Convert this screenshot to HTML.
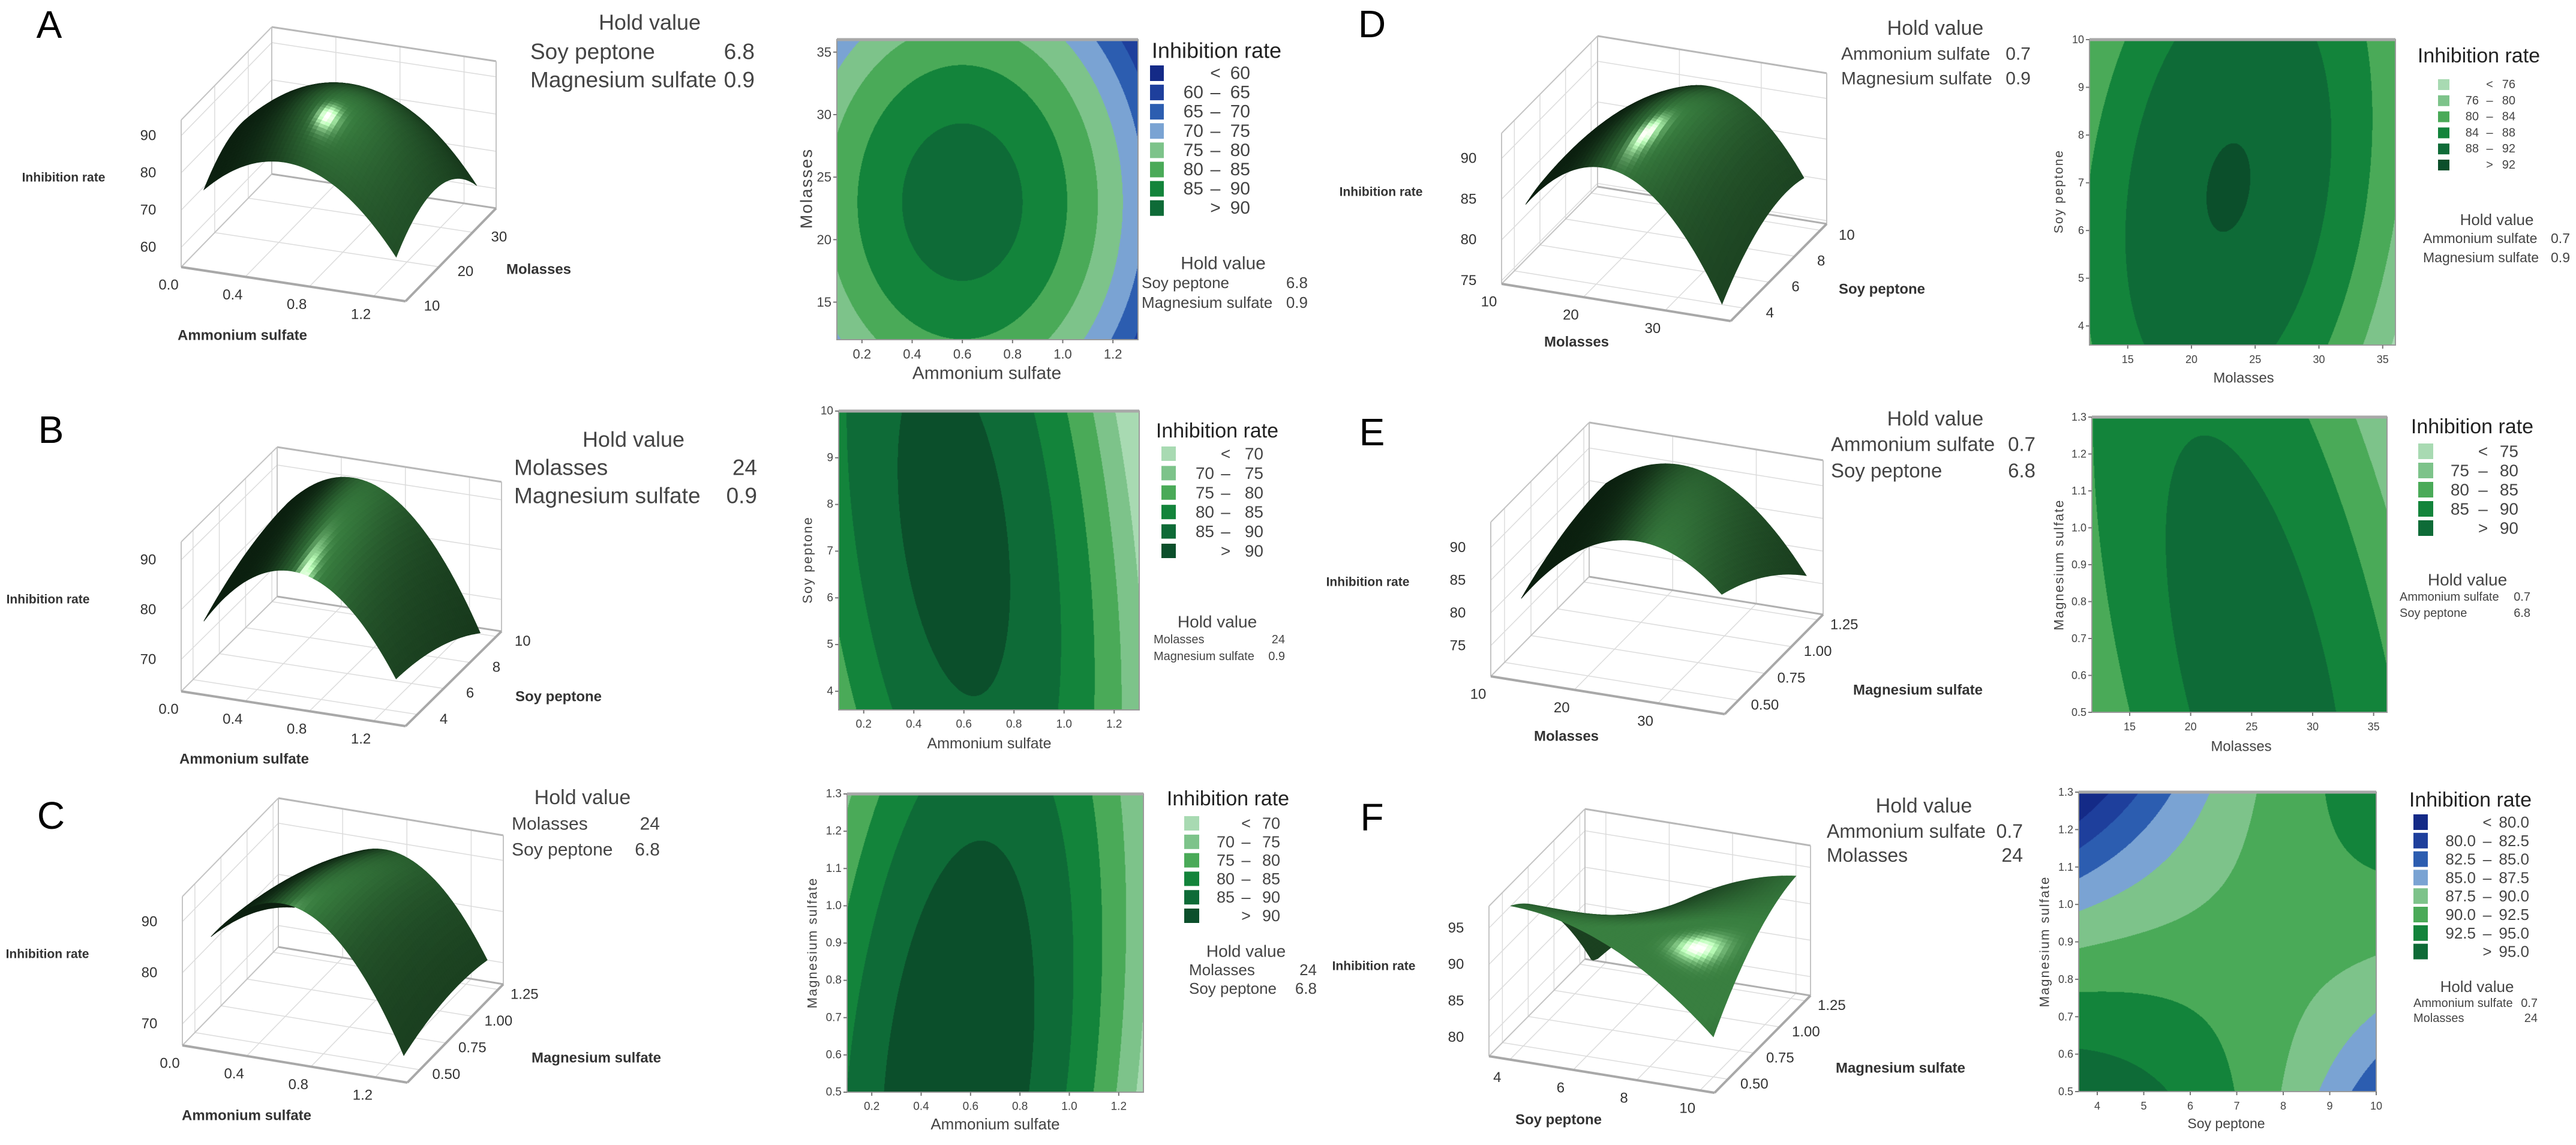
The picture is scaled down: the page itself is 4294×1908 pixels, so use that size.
<!DOCTYPE html>
<html><head><meta charset="utf-8">
<style>
body{margin:0;background:#fff;}
#wrap{position:relative;width:4294px;height:1908px;overflow:hidden;background:#fff;}
#fig{position:absolute;left:0;top:0;}
canvas{position:absolute;}
text{font-family:"Liberation Sans",sans-serif;}
</style></head>
<body>
<div id="wrap">
<svg id="fig" width="4294" height="1908" xmlns="http://www.w3.org/2000/svg"></svg>
</div>
<script>
// ---------- data ----------
const levelsA=[60,65,70,75,80,85,90];
const levelsB=[70,75,80,85,90];
const levelsC=[70,75,80,85,90];
const levelsD=[76,80,84,88,92];
const levelsE=[75,80,85,90];
const levelsF=[80,82.5,85,87.5,90,92.5,95];
const paletteBlue=['#142a87','#1e3f9c','#2c5db0','#7aa3d3','#7dc38a','#4aaa58','#13843b','#0e6b37'];
const paletteG6=['#a8dab2','#7dc38a','#4aaa58','#13843b','#0e6b37','#0b4f2b'];
const paletteG5=['#a8dab2','#7dc38a','#4aaa58','#13843b','#0e6b37'];
// response-surface coefficients [c0, X, Y, X^2, Y^2, XY, X^2Y^2]
const coefA=[92.46,0,0,-42.7,-0.062,0,0];   const centerA=[0.6,23,1,1];
const coefB=[91.9,0,0,-43,-0.167,-1.89,0];   const centerB=[0.56,7.5,1,1];
const coefC=[93.9,0,0,-45,-11.0,13.5,0];     const centerC=[0.55,0.55,1,1];
const coefD=[92.19,0,0,-0.068,-0.233,0.0598,0]; const centerD=[22.9,6.9,1,1];
const coefE=[92.2,0,0,-0.06,-7.66,-0.768,0]; const centerE=[25.3,0.6,1,1];
const coefF=[91,0.32,-1.7,-0.82,-0.3,7,-2];  const centerF=[7,0.9,3,0.4];
const ticksAmm=[0.2,0.4,0.6,0.8,1.0,1.2];
const ticksMol=[15,20,25,30,35];
const ticksSoy=[4,5,6,7,8,9,10];
const ticksMg=[0.5,0.6,0.7,0.8,0.9,1.0,1.1,1.2,1.3];
const ticks3Amm=[0,0.4,0.8,1.2];
const ticks3Mol=[10,20,30];
const ticks3Soy=[4,6,8,10];
const ticks3Mg=[0.5,0.75,1.0,1.25];

// ---------- helpers ----------
const NS='http://www.w3.org/2000/svg';
const svg=document.getElementById('fig');
const wrap=document.getElementById('wrap');
function el(tag,attrs,parent){const e=document.createElementNS(NS,tag);for(const k in attrs)e.setAttribute(k,attrs[k]);(parent||svg).appendChild(e);return e;}
function T(x,y,s,size,name,anchor,weight,extra){
  const e=el('text',{x:x,y:y,'font-size':size,'text-anchor':anchor||'start','dominant-baseline':'central','font-weight':weight||'normal',fill:'#222'});
  if(extra){for(const k in extra)e.setAttribute(k,extra[k]);}
  e.textContent=s;
  
  
  return e;
}
function model(c,ct,x,y){const X=(x-ct[0])/ct[2],Y=(y-ct[1])/ct[3];return c[0]+c[1]*X+c[2]*Y+c[3]*X*X+c[4]*Y*Y+c[5]*X*Y+c[6]*X*X*Y*Y;}
function hex(h){return [parseInt(h.substr(1,2),16),parseInt(h.substr(3,2),16),parseInt(h.substr(5,2),16)];}
function fmt(v,d){return v.toFixed(d);}

// ---------- contour panels ----------
function contour(cfg){
  const [bx,by,bw,bh]=cfg.box;
  const cv=document.createElement('canvas');
  cv.width=bw;cv.height=bh;cv.style.left=bx+'px';cv.style.top=by+'px';
  
  
  wrap.insertBefore(cv,svg);
  const ctx=cv.getContext('2d');const img=ctx.createImageData(bw,bh);
  const pal=cfg.palette.map(hex);
  for(let py=0;py<bh;py++){const yv=cfg.yr[1]-(py+0.5)/bh*(cfg.yr[1]-cfg.yr[0]);
    for(let px=0;px<bw;px++){const xv=cfg.xr[0]+(px+0.5)/bw*(cfg.xr[1]-cfg.xr[0]);
      const v=model(cfg.coef,cfg.center,xv,yv);let k=0;while(k<cfg.levels.length&&v>=cfg.levels[k])k++;
      const c=pal[k];const o=(py*bw+px)*4;img.data[o]=c[0];img.data[o+1]=c[1];img.data[o+2]=c[2];img.data[o+3]=255;}}
  ctx.putImageData(img,0,0);
  const g=el('g',{});
  const fr=el('rect',{x:bx,y:by,width:bw,height:bh,fill:'none',stroke:'#9a9a9a','stroke-width':2},g);
  
  el('line',{x1:bx,y1:by,x2:bx+bw,y2:by,stroke:'#a8a8a8','stroke-width':5},g);
  const sx=v=>bx+(v-cfg.xr[0])/(cfg.xr[1]-cfg.xr[0])*bw;
  const sy=v=>by+bh-(v-cfg.yr[0])/(cfg.yr[1]-cfg.yr[0])*bh;
  cfg.xticks.forEach(t=>{const x=sx(t);el('line',{x1:x,y1:by+bh,x2:x,y2:by+bh+6,stroke:'#777','stroke-width':2},g);
    T(x,by+bh+24,fmt(t,cfg.xd),cfg.tf,cfg.id+'-x-tick','middle','normal',{fill:'#444'});});
  cfg.yticks.forEach(t=>{const y=sy(t);el('line',{x1:bx-6,y1:y,x2:bx,y2:y,stroke:'#777','stroke-width':2},g);
    T(bx-9,y,fmt(t,cfg.yd),cfg.tf,cfg.id+'-y-tick','end','normal',{fill:'#444'});});
  T(cfg.xl[0],cfg.xl[1],cfg.xl[2],cfg.xl[3],cfg.id+'-x-axis-title','middle','normal',{fill:'#444'});
  T(cfg.yl[0],cfg.yl[1],cfg.yl[2],cfg.yl[3],cfg.id+'-y-axis-title','middle','normal',{fill:'#444',transform:'rotate(-90 '+cfg.yl[0]+' '+cfg.yl[1]+')','letter-spacing':cfg.yl[4]||0});
  const L=cfg.leg;
  T(L.tx,L.ty,'Inhibition rate',L.ts,cfg.id+'-legend-title','middle');
  const n=cfg.levels.length;
  for(let i=0;i<=n;i++){
    const y=L.y0+i*L.dy;
    const r=el('rect',{x:L.sx,y:y-L.sh/2,width:L.sw,height:L.sh,fill:cfg.palette[i]},g);
    
    const d=cfg.ld;
    if(i===0){T(L.dash,y,'<',L.f,cfg.id+'-legend-label','middle','normal',{fill:'#444'});T(L.c3,y,fmt(cfg.levels[0],d),L.f,cfg.id+'-legend-label','end','normal',{fill:'#444'});}
    else if(i===n){T(L.dash,y,'>',L.f,cfg.id+'-legend-label','middle','normal',{fill:'#444'});T(L.c3,y,fmt(cfg.levels[n-1],d),L.f,cfg.id+'-legend-label','end','normal',{fill:'#444'});}
    else{T(L.c1,y,fmt(cfg.levels[i-1],d),L.f,cfg.id+'-legend-label','end','normal',{fill:'#444'});T(L.dash,y,'–',L.f,cfg.id+'-legend-label','middle','normal',{fill:'#444'});T(L.c3,y,fmt(cfg.levels[i],d),L.f,cfg.id+'-legend-label','end','normal',{fill:'#444'});}
  }
  hold(cfg.hold,cfg.id+'-contour');
}
function hold(h,id){
  T(h.t[0],h.t[1],'Hold value',h.t[2],id+'-hold-title','middle','normal',{fill:'#444'});
  h.rows.forEach((r,i)=>{T(h.lx,h.ys[i],r[0],h.f,id+'-hold-label','start','normal',{fill:'#444'});T(h.vr,h.ys[i],r[1],h.f,id+'-hold-value','end','normal',{fill:'#444'});});
}

// ---------- 3D surface panels ----------
function surface(cfg){
  const {O,Ex,Ey,Ez,xr,yr,zr}=cfg;
  const g=el('g',{});
  const nx=x=>(x-xr[0])/(xr[1]-xr[0]),ny=y=>(y-yr[0])/(yr[1]-yr[0]),nz=z=>(z-zr[0])/(zr[1]-zr[0]);
  const Pn=(a,b,c)=>[O[0]+a*Ex[0]+b*Ey[0]+c*Ez[0],O[1]+a*Ex[1]+b*Ey[1]+c*Ez[1]];
  const P=(x,y,z)=>Pn(nx(x),ny(y),nz(z));
  const line=(p,q,st,w)=>el('line',{x1:p[0],y1:p[1],x2:q[0],y2:q[1],stroke:st,'stroke-width':w},g);
  const [x0,x1]=xr,[y0,y1]=yr,[z0,z1]=zr;
  const gc='#dcdcdc';
  cfg.xt.forEach(t=>{line(P(t,y0,z0),P(t,y1,z0),gc,1.5);line(P(t,y1,z0),P(t,y1,z1),gc,1.5);});
  cfg.yt.forEach(t=>{line(P(x0,t,z0),P(x1,t,z0),gc,1.5);line(P(x0,t,z0),P(x0,t,z1),gc,1.5);});
  cfg.zt.forEach(t=>{line(P(x0,y0,t),P(x0,y1,t),gc,1.5);line(P(x0,y1,t),P(x1,y1,t),gc,1.5);});
  const ec='#c4c4c4';
  line(P(x0,y0,z0),P(x0,y0,z1),ec,2);line(P(x0,y0,z1),P(x0,y1,z1),ec,2);line(P(x0,y1,z0),P(x0,y1,z1),ec,2);
  line(P(x0,y1,z1),P(x1,y1,z1),'#b8b8b8',3);line(P(x1,y1,z0),P(x1,y1,z1),ec,2);
  line(P(x0,y0,z0),P(x0,y1,z0),ec,2);line(P(x0,y1,z0),P(x1,y1,z0),'#b0b0b0',3);
  line(P(x0,y0,z0),P(x1,y0,z0),'#a8a8a8',4);line(P(x1,y0,z0),P(x1,y1,z0),'#a8a8a8',4);
  const b=-Ex[0]/Ey[0],c=-(Ex[1]+b*Ey[1])/Ez[1];
  let w=[1,b,c];let wl=Math.hypot(...w);w=w.map(v=>v/wl);
  const Lraw=[0.5,-0.2,1];const Ll=Math.hypot(...Lraw);const L=Lraw.map(v=>v/Ll);
  const Hraw=[0.35,-0.3,1];const Hl=Math.hypot(...Hraw);const H=Hraw.map(v=>v/Hl);
  const N=44,[dx0,dx1]=cfg.dx,[dy0,dy1]=cfg.dy;
  const lift=cfg.lift||0;
  const pts=[];
  for(let i=0;i<=N;i++){pts.push([]);for(let j=0;j<=N;j++){
    const x=dx0+(dx1-dx0)*i/N,y=dy0+(dy1-dy0)*j/N;let z=model(cfg.coef,cfg.center,x,y);z=Math.max(z0,Math.min(z1,z));
    pts[i].push([nx(x),ny(y),nz(z)]);}}
  const quads=[];
  for(let i=0;i<N;i++)for(let j=0;j<N;j++){
    const a=pts[i][j],bq=pts[i+1][j],cq=pts[i+1][j+1],d=pts[i][j+1];
    const u=[cq[0]-a[0],cq[1]-a[1],cq[2]-a[2]],v=[d[0]-bq[0],d[1]-bq[1],d[2]-bq[2]];
    let n=[u[1]*v[2]-u[2]*v[1],u[2]*v[0]-u[0]*v[2],u[0]*v[1]-u[1]*v[0]];
    if(n[2]<0)n=n.map(q=>-q);const nl=Math.hypot(...n);n=n.map(q=>q/nl);
    const cen=[(a[0]+cq[0])/2,(a[1]+cq[1])/2,(a[2]+bq[2]+cq[2]+d[2])/4];
    quads.push({p:[a,bq,cq,d],n:n,dep:cen[0]*w[0]+cen[1]*w[1]+cen[2]*w[2]});
  }
  quads.sort((p,q)=>p.dep-q.dep);
  const sg=el('g',{},g);
  quads.forEach(q=>{
    const n=q.n;const dif=Math.max(0,n[0]*L[0]+n[1]*L[1]+n[2]*L[2]);const sp=Math.pow(Math.max(0,n[0]*H[0]+n[1]*H[1]+n[2]*H[2]),90);
    const d2=Math.min(1,dif*dif*dif+lift);
    const r=Math.min(255,12+45*d2+215*sp),gg=Math.min(255,32+95*d2+210*sp),bb=Math.min(255,16+48*d2+200*sp);
    const col='rgb('+(r|0)+','+(gg|0)+','+(bb|0)+')';
    const s=q.p.map(p=>Pn(p[0],p[1],p[2]).map(v=>v.toFixed(1)).join(',')).join(' ');
    el('polygon',{points:s,fill:col,stroke:col,'stroke-width':0.8},sg);
  });
  cfg.xt.forEach(t=>{const p=P(t,y0,z0);T(p[0]-21,p[1]+30,fmt(t,cfg.xd),24,cfg.id+'-x-tick','middle','normal',{fill:'#333'});});
  cfg.yt.forEach(t=>{const p=P(x1,t,z0);T(p[0]+44,p[1]+8,fmt(t,cfg.yd),24,cfg.id+'-y-tick','middle','normal',{fill:'#333'});});
  cfg.zt.forEach(t=>{const p=P(x0,y0,t);T(p[0]-55,p[1],fmt(t,0),24,cfg.id+'-z-tick','middle','normal',{fill:'#333'});});
  T(cfg.zl[0],cfg.zl[1],'Inhibition rate',21,cfg.id+'-z-axis-title','middle','bold',{fill:'#333'});
  T(cfg.xl[0],cfg.xl[1],cfg.xl[2],24,cfg.id+'-x-axis-title','middle','bold',{fill:'#333'});
  T(cfg.yl[0],cfg.yl[1],cfg.yl[2],24,cfg.id+'-y-axis-title','middle','bold',{fill:'#333'});
  hold(cfg.hold,cfg.id+'-surface');
  T(cfg.letter[0],cfg.letter[1],cfg.id.toUpperCase(),64,cfg.id+'-panel-label','middle','normal',{fill:'#000'});
}

// ---------- panel definitions ----------
contour({id:'a',box:[1395,66,502,500],xr:[0.1,1.3],yr:[12,36],coef:coefA,center:centerA,levels:levelsA,palette:paletteBlue,ld:0,
  xticks:ticksAmm,yticks:ticksMol,xd:1,yd:0,tf:22,xl:[1645,622,'Ammonium sulfate',30],yl:[1344,314,'Molasses',28,2],
  leg:{tx:2028,ty:84,ts:36,sx:1917,y0:122,dy:32.1,sw:23,sh:26,c1:2006,dash:2026,c3:2084,f:30},
  hold:{t:[2039,439,30],rows:[['Soy peptone','6.8'],['Magnesium sulfate','0.9']],lx:1903,vr:2180,ys:[471,504],f:26}});
contour({id:'b',box:[1398,685,501,498],xr:[0.1,1.3],yr:[3.6,10],coef:coefB,center:centerB,levels:levelsB,palette:paletteG6,ld:0,
  xticks:ticksAmm,yticks:ticksSoy,xd:1,yd:0,tf:19,xl:[1649,1239,'Ammonium sulfate',25],yl:[1346,933,'Soy peptone',22,2],
  leg:{tx:2029,ty:718,ts:34,sx:1936,y0:756,dy:32.4,sw:24,sh:24,c1:2024,dash:2043,c3:2106,f:28},
  hold:{t:[2029,1036,28],rows:[['Molasses','24'],['Magnesium sulfate','0.9']],lx:1923,vr:2142,ys:[1066,1094],f:20}});
contour({id:'c',box:[1412,1323,494,497],xr:[0.1,1.3],yr:[0.5,1.3],coef:coefC,center:centerC,levels:levelsC,palette:paletteG6,ld:0,
  xticks:ticksAmm,yticks:ticksMg,xd:1,yd:1,tf:19,xl:[1659,1873,'Ammonium sulfate',26],yl:[1354,1571,'Magnesium sulfate',22,2],
  leg:{tx:2047,ty:1331,ts:34,sx:1974,y0:1372,dy:30.8,sw:25,sh:24,c1:2058,dash:2077,c3:2134,f:27},
  hold:{t:[2077,1585,28],rows:[['Molasses','24'],['Soy peptone','6.8']],lx:1982,vr:2195,ys:[1616,1647],f:26}});
contour({id:'d',box:[3483,66,510,509],xr:[12,36],yr:[3.6,10],coef:coefD,center:centerD,levels:levelsD,palette:paletteG6,ld:0,
  xticks:ticksMol,yticks:ticksSoy,xd:0,yd:0,tf:18,xl:[3740,630,'Molasses',24],yl:[3432,319,'Soy peptone',21,2],
  leg:{tx:4132,ty:93,ts:34,sx:4064,y0:141,dy:26.8,sw:19,sh:18,c1:4132,dash:4150,c3:4193,f:20},
  hold:{t:[4162,366,26],rows:[['Ammonium sulfate','0.7'],['Magnesium sulfate','0.9']],lx:4039,vr:4284,ys:[397,429],f:23}});
contour({id:'e',box:[3487,695,492,492],xr:[11.9,36.1],yr:[0.5,1.3],coef:coefE,center:centerE,levels:levelsE,palette:paletteG5,ld:0,
  xticks:ticksMol,yticks:ticksMg,xd:0,yd:1,tf:18,xl:[3736,1244,'Molasses',24],yl:[3432,941,'Magnesium sulfate',22,2],
  leg:{tx:4121,ty:711,ts:34,sx:4031,y0:752,dy:32,sw:25,sh:26,c1:4116,dash:4139,c3:4198,f:28},
  hold:{t:[4113,966,28],rows:[['Ammonium sulfate','0.7'],['Soy peptone','6.8']],lx:4000,vr:4218,ys:[995,1022],f:20}});
contour({id:'f',box:[3465,1320,496,499],xr:[3.6,10],yr:[0.5,1.3],coef:coefF,center:centerF,levels:levelsF,palette:paletteBlue,ld:1,
  xticks:ticksSoy,yticks:ticksMg,xd:0,yd:1,tf:18,xl:[3711,1872,'Soy peptone',23],yl:[3408,1569,'Magnesium sulfate',22,2],
  leg:{tx:4118,ty:1333,ts:34,sx:4023,y0:1370,dy:30.8,sw:24,sh:26,c1:4127,dash:4146,c3:4216,f:26},
  hold:{t:[4129,1644,26],rows:[['Ammonium sulfate','0.7'],['Molasses','24']],lx:4023,vr:4230,ys:[1672,1697],f:20}});

surface({id:'a',O:[302,445],Ex:[374,57],Ey:[151,-155],Ez:[0,-245],xr:[0,1.4],yr:[10,37],zr:[54.7,94.2],dx:[0.1,1.3],dy:[12,36],
  coef:coefA,center:centerA,xt:ticks3Amm,yt:ticks3Mol,zt:[60,70,80,90],xd:1,yd:0,
  zl:[106,296],xl:[404,559,'Ammonium sulfate'],yl:[898,449,'Molasses'],letter:[82,41],
  hold:{t:[1083,37,36],rows:[['Soy peptone','6.8'],['Magnesium sulfate','0.9']],lx:884,vr:1258,ys:[86,133],f:37}});
surface({id:'b',O:[302,1152],Ex:[374,58],Ey:[160,-158],Ez:[0,-249],xr:[0,1.4],yr:[3.1,10.4],zr:[63.6,93.6],dx:[0.1,1.3],dy:[3.6,10],
  coef:coefB,center:centerB,xt:ticks3Amm,yt:ticks3Soy,zt:[70,80,90],xd:1,yd:0,
  zl:[80,999],xl:[407,1265,'Ammonium sulfate'],yl:[931,1161,'Soy peptone'],letter:[85,716],
  hold:{t:[1056,732,36],rows:[['Molasses','24'],['Magnesium sulfate','0.9']],lx:857,vr:1262,ys:[779,826],f:37}});
surface({id:'c',O:[304,1742],Ex:[375,62],Ey:[160,-164],Ez:[0,-248],xr:[0,1.4],yr:[0.38,1.3],zr:[65.8,94.9],dx:[0.1,1.3],dy:[0.5,1.3],
  coef:coefC,center:centerC,xt:ticks3Amm,yt:ticks3Mg,zt:[70,80,90],xd:1,yd:2,
  zl:[79,1590],xl:[411,1859,'Ammonium sulfate'],yl:[994,1763,'Magnesium sulfate'],letter:[85,1359],
  hold:{t:[971,1329,34],rows:[['Molasses','24'],['Soy peptone','6.8']],lx:853,vr:1100,ys:[1373,1416],f:30}});
surface({id:'d',O:[2503,473],Ex:[382,62],Ey:[160,-162],Ez:[0,-251],xr:[10,38],yr:[3,10.5],zr:[74.6,93.1],dx:[12,36],dy:[3.6,10],
  coef:coefD,center:centerD,xt:ticks3Mol,yt:ticks3Soy,zt:[75,80,85,90],xd:0,yd:0,
  zl:[2302,320],xl:[2628,570,'Molasses'],yl:[3137,482,'Soy peptone'],letter:[2287,40],
  hold:{t:[3226,47,34],rows:[['Ammonium sulfate','0.7'],['Magnesium sulfate','0.9']],lx:3069,vr:3385,ys:[90,131],f:30}});
surface({id:'e',O:[2485,1127],Ex:[390,63],Ey:[164,-166],Ez:[0,-257],xr:[10,38],yr:[0.37,1.3],zr:[70.3,93.9],dx:[12,36],dy:[0.5,1.3],
  coef:coefE,center:centerE,xt:ticks3Mol,yt:ticks3Mg,zt:[75,80,85,90],xd:0,yd:2,
  zl:[2280,970],xl:[2611,1227,'Molasses'],yl:[3197,1150,'Magnesium sulfate'],letter:[2287,720],
  hold:{t:[3226,698,34],rows:[['Ammonium sulfate','0.7'],['Soy peptone','6.8']],lx:3052,vr:3393,ys:[740,784],f:33}});
surface({id:'f',O:[2482,1760],Ex:[376,61],Ey:[160,-162],Ez:[0,-250],xr:[3.34,10.46],yr:[0.37,1.3],zr:[77.4,98],dx:[3.6,10],dy:[0.5,1.3],
  coef:coefF,center:centerF,xt:[4,6,8,10],yt:ticks3Mg,zt:[80,85,90,95],xd:0,yd:2,lift:0.35,
  zl:[2290,1610],xl:[2598,1866,'Soy peptone'],yl:[3168,1780,'Magnesium sulfate'],letter:[2287,1362],
  hold:{t:[3207,1343,34],rows:[['Ammonium sulfate','0.7'],['Molasses','24']],lx:3045,vr:3372,ys:[1385,1425],f:32}});
</script>
</body></html>
